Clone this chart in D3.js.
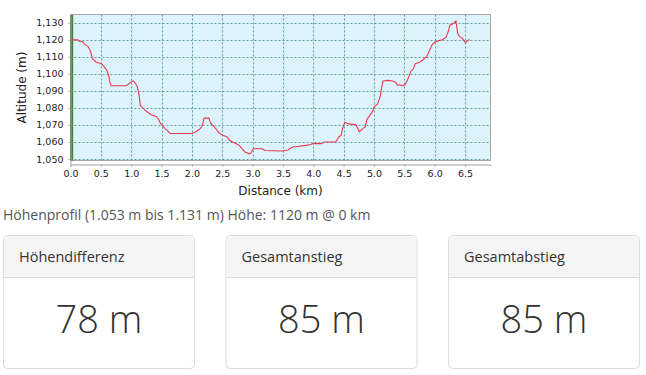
<!DOCTYPE html>
<html>
<head>
<meta charset="utf-8">
<script src="https://cdn.jsdelivr.net/npm/d3@7"></script>
<style>
  body { margin: 0; background: #fff; }
  svg { display: block; }
</style>
</head>
<body>
<div id="chart"></div>
<script>
// profile points: distance (km) and altitude (m)
const distKm = [0, 0.12, 0.15, 0.2, 0.23, 0.29, 0.32, 0.34, 0.36, 0.42, 0.51, 0.56, 0.6, 0.63, 0.65, 0.67,
  0.92, 0.99, 1.03, 1.07, 1.1, 1.13, 1.15, 1.19, 1.25, 1.33, 1.41, 1.45, 1.48, 1.52, 1.55, 1.59, 1.64,
  2.0, 2.07, 2.14, 2.17, 2.2, 2.28, 2.31, 2.35, 2.39, 2.43, 2.46, 2.51, 2.58, 2.62, 2.67, 2.73, 2.78,
  2.84, 2.88, 2.95, 2.97, 3.01, 3.16, 3.2, 3.5, 3.58, 3.66, 3.77, 3.81, 3.88, 3.96, 3.99, 4.13, 4.18,
  4.37, 4.42, 4.46, 4.48, 4.52, 4.58, 4.7, 4.73, 4.76, 4.81, 4.86, 4.88, 4.92, 4.98, 5.0, 5.06, 5.1,
  5.13, 5.15, 5.23, 5.31, 5.36, 5.39, 5.43, 5.47, 5.51, 5.55, 5.61, 5.65, 5.68, 5.75, 5.8, 5.87, 5.91,
  5.96, 6.0, 6.05, 6.13, 6.19, 6.23, 6.25, 6.31, 6.35, 6.38, 6.41, 6.46, 6.51, 6.54, 6.58];
const altM = [1120, 1120, 1119, 1119, 1117.5, 1116, 1114, 1112, 1109, 1107, 1106, 1104, 1102, 1099, 1095, 1093,
  1093, 1095, 1096, 1094.5, 1092.5, 1087.5, 1081.5, 1080, 1078, 1076, 1075, 1073.5, 1071, 1069.5, 1068, 1067, 1065,
  1065, 1066, 1068, 1069.5, 1074, 1074, 1071, 1069.5, 1068, 1066, 1065, 1064, 1063, 1061, 1060, 1059, 1058,
  1055.5, 1054, 1053, 1053.3, 1056, 1056, 1055, 1054.7, 1055.3, 1057, 1057.5, 1057.7, 1058, 1058.5, 1059, 1059, 1060,
  1060, 1063, 1064, 1067.7, 1071.6, 1070.6, 1070.2, 1068, 1066, 1067.7, 1069, 1073, 1075, 1078, 1080.5, 1082.4, 1086.3,
  1092.6, 1095.8, 1096.2, 1095.8, 1095, 1093.2, 1093.6, 1093, 1093.6, 1096.2, 1101.7, 1103, 1106, 1106.8, 1108, 1110.3, 1113.5,
  1117.2, 1118.6, 1119.4, 1120.1, 1121.7, 1125.6, 1128.6, 1129.6, 1131.1, 1123.7, 1122, 1120.7, 1118.2, 1119.7, 1120.1];

const xTicks = [0, 0.5, 1, 1.5, 2, 2.5, 3, 3.5, 4, 4.5, 5, 5.5, 6, 6.5];
const yTicks = [1050, 1060, 1070, 1080, 1090, 1100, 1110, 1120, 1130];
const markerKm = [0];

const summaryText = "Höhenprofil (1.053 m bis 1.131 m) Höhe: 1120 m @ 0 km";
const cardTitles = ["Höhendifferenz", "Gesamtanstieg", "Gesamtabstieg"];
const cardValues = ["78 m", "85 m", "85 m"];

const data = distKm.map((d, i) => [d, altM[i]]);

const svgWidth = 646, svgHeight = 375;
const plot = { left: 70.5, right: 490.5, top: 14.5, bottom: 160.5 };

const svg = d3.select('#chart').append('svg')
    .attr('width', svgWidth)
    .attr('height', svgHeight);

const x = d3.scaleLinear().domain([0, 6.92]).range([plot.left, plot.right]);
const y = d3.scaleLinear().domain([1049.1, 1134.9]).range([plot.bottom, plot.top]);

// plot background
svg.append('rect')
    .attr('x', plot.left)
    .attr('y', plot.top)
    .attr('width', plot.right - plot.left)
    .attr('height', plot.bottom - plot.top)
    .style('fill', '#ddf3fc');

// dashed grid
const grid = svg.append('g').attr('class', 'grid');
grid.selectAll('line.gx')
    .data(xTicks.filter(d => d > 0))
    .join('line')
    .attr('class', 'gx')
    .attr('x1', d => Math.round(x(d)) + 0.5)
    .attr('x2', d => Math.round(x(d)) + 0.5)
    .attr('y1', plot.top)
    .attr('y2', plot.bottom);
grid.selectAll('line.gy')
    .data(yTicks)
    .join('line')
    .attr('class', 'gy')
    .attr('y1', d => Math.round(y(d)) + 0.5)
    .attr('y2', d => Math.round(y(d)) + 0.5)
    .attr('x1', plot.left)
    .attr('x2', plot.right);
grid.selectAll('line')
    .style('stroke', '#5f9f92')
    .style('stroke-width', 1)
    .style('stroke-dasharray', '2 2');

// plot outline
svg.append('rect')
    .attr('x', plot.left)
    .attr('y', plot.top)
    .attr('width', plot.right - plot.left)
    .attr('height', plot.bottom - plot.top)
    .style('fill', 'none')
    .style('stroke', '#a8a8a8');

// current position marker
svg.selectAll('line.marker')
    .data(markerKm)
    .join('line')
    .attr('class', 'marker')
    .attr('x1', d => x(d) + 1.2)
    .attr('x2', d => x(d) + 1.2)
    .attr('y1', plot.top + 0.5)
    .attr('y2', plot.bottom)
    .style('stroke', '#3c8538')
    .style('stroke-width', 3);

// profile line
const line = d3.line()
    .x(d => x(d[0]))
    .y(d => y(d[1]));
svg.append('path')
    .datum(data)
    .attr('d', line)
    .style('fill', 'none')
    .style('stroke', '#e8394f')
    .style('stroke-width', 1.1);

// axes
const xAxis = svg.append('g')
    .attr('transform', `translate(0, ${plot.bottom + 4})`)
    .call(d3.axisBottom(x).tickValues(xTicks).tickFormat(d3.format('.1f')).tickSize(2).tickPadding(4));
const yAxis = svg.append('g')
    .attr('transform', `translate(${plot.left}, 0)`)
    .call(d3.axisLeft(y).tickValues(yTicks).tickFormat(d3.format(',')).tickSize(2).tickPadding(5));
[xAxis, yAxis].forEach(a => {
    a.select('.domain').style('stroke', '#a0a0a0');
    a.selectAll('.tick line').style('stroke', '#a0a0a0');
    a.selectAll('.tick text')
        .style('font-family', '"DejaVu Sans", sans-serif')
        .style('font-size', '9.5px')
        .style('fill', '#222');
});
yAxis.select('.domain').attr('d', `M0.5,${plot.top}V${plot.bottom + 4}`);

svg.append('text')
    .attr('x', (plot.left + plot.right) / 2)
    .attr('y', 195)
    .attr('text-anchor', 'middle')
    .style('font-family', '"DejaVu Sans", sans-serif')
    .style('font-size', '12px')
    .style('fill', '#222')
    .text('Distance (km)');
svg.append('text')
    .attr('transform', `translate(26, ${(plot.top + plot.bottom) / 2}) rotate(-90)`)
    .attr('text-anchor', 'middle')
    .style('font-family', '"DejaVu Sans", sans-serif')
    .style('font-size', '12px')
    .style('fill', '#222')
    .text('Altitude (m)');

// summary line
svg.append('text')
    .attr('x', 3)
    .attr('y', 219.5)
    .style('font-family', '"Open Sans", sans-serif')
    .style('font-size', '14px')
    .style('fill', '#555')
    .text(summaryText);

// stat cards
const cardW = 191, cardGap = 31.5, cardTop = 235.5, headH = 42, cardH = 133;
const cards = svg.selectAll('g.card')
    .data(cardTitles)
    .join('g')
    .attr('class', 'card')
    .attr('transform', (d, i) => `translate(${3.5 + i * (cardW + cardGap)}, ${cardTop})`);
cards.append('rect')
    .attr('width', cardW)
    .attr('height', cardH)
    .attr('rx', 4)
    .style('fill', '#fff')
    .style('stroke', '#dcdcdc');
cards.append('path')
    .attr('d', `M0.5,${headH}V4a3.5,3.5 0 0 1 3.5,-3.5H${cardW - 4}a3.5,3.5 0 0 1 3.5,3.5V${headH}Z`)
    .style('fill', '#f5f5f5');
cards.append('line')
    .attr('x1', 0).attr('x2', cardW)
    .attr('y1', headH).attr('y2', headH)
    .style('stroke', '#dcdcdc');
cards.append('text')
    .attr('x', 15.5)
    .attr('y', 26)
    .style('font-family', '"Open Sans", sans-serif')
    .style('font-size', '14.5px')
    .style('fill', '#333')
    .text(d => d);
cards.append('text')
    .attr('x', cardW / 2)
    .attr('y', 97.5)
    .attr('text-anchor', 'middle')
    .style('font-family', '"Open Sans", sans-serif')
    .style('font-size', '38px')
    .style('font-weight', 300)
    .style('fill', '#333')
    .text((d, i) => cardValues[i]);
</script>
</body>
</html>
